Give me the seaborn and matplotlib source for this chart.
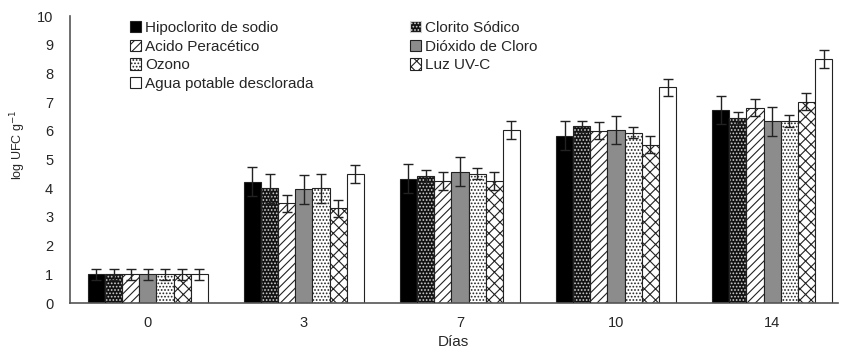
import matplotlib
matplotlib.use("Agg")
import matplotlib.pyplot as plt
import numpy as np
import pandas as pd
import seaborn as sns
from matplotlib.patches import Patch, Rectangle

# datos (log UFC g-1)
dias = ["0", "3", "7", "10", "14"]
tratamientos = ["Hipoclorito de sodio", "Clorito Sódico", "Acido Peracético",
                "Dióxido de Cloro", "Ozono", "Luz UV-C", "Agua potable desclorada"]

hipoclorito = [1.0, 4.23, 4.34, 5.83, 6.73]
clorito = [1.0, 4.0, 4.42, 6.16, 6.45]
peracetico = [1.0, 3.47, 4.25, 6.0, 6.8]
dioxido = [1.0, 3.96, 4.58, 6.03, 6.33]
ozono = [1.0, 4.0, 4.51, 5.94, 6.34]
uvc = [1.0, 3.3, 4.25, 5.52, 7.02]
agua = [1.0, 4.5, 6.03, 7.52, 8.5]

err_hipoclorito = [0.2, 0.5, 0.5, 0.5, 0.5]
err_clorito = [0.2, 0.5, 0.2, 0.2, 0.2]
err_peracetico = [0.2, 0.3, 0.3, 0.3, 0.3]
err_dioxido = [0.2, 0.5, 0.5, 0.5, 0.5]
err_ozono = [0.2, 0.5, 0.2, 0.2, 0.2]
err_uvc = [0.2, 0.3, 0.3, 0.3, 0.3]
err_agua = [0.2, 0.3, 0.3, 0.3, 0.3]

valores = [hipoclorito, clorito, peracetico, dioxido, ozono, uvc, agua]
errores = [err_hipoclorito, err_clorito, err_peracetico, err_dioxido,
           err_ozono, err_uvc, err_agua]

BORDE = "#222222"
# estilo de cada serie: (relleno, trama, color de trama)
estilos = [("#000000", "", BORDE), ("#111111", ".....", "#d0d0d0"),
           ("#ffffff", "////", BORDE), ("#8c8c8c", "", BORDE),
           ("#ffffff", ".....", BORDE), ("#ffffff", "xxx", BORDE),
           ("#ffffff", "", BORDE)]

rows = []
for t, vals in zip(tratamientos, valores):
    for d, v in zip(dias, vals):
        rows.append({"Días": d, "Tratamiento": t, "valor": v})
df = pd.DataFrame(rows)

sns.set_style("white")
plt.rcParams["font.family"] = ["Liberation Sans", "DejaVu Sans"]
plt.rcParams["hatch.linewidth"] = 0.8

fig = plt.figure(figsize=(8.41, 3.48), dpi=100)
ax = fig.add_axes([0.083, 0.129, 0.913, 0.825])

paleta = {t: e[0] for t, e in zip(tratamientos, estilos)}
sns.barplot(data=df, x="Días", y="valor", hue="Tratamiento", order=dias,
            hue_order=tratamientos, palette=paleta, errorbar=None,
            width=0.77, edgecolor=BORDE, linewidth=0.8, saturation=1,
            legend=False, ax=ax)

for cont, (fc, hatch, hc), errs in zip(ax.containers, estilos, errores):
    for bar, e in zip(cont, errs):
        bar.set_facecolor(fc)
        bar.set_hatch(hatch)
        if hc != BORDE:
            # trama clara sobre fondo oscuro: contorno aparte
            bar.set_edgecolor(hc)
            ax.add_patch(Rectangle((bar.get_x(), 0), bar.get_width(),
                                   bar.get_height(), fill=False,
                                   edgecolor=BORDE, linewidth=0.8, zorder=3))
        x = bar.get_x() + bar.get_width() / 2
        ax.errorbar(x, bar.get_height(), yerr=e, color=BORDE,
                    elinewidth=1, capsize=3.5, capthick=1, zorder=5)

ax.set_ylim(0, 10)
ax.set_xlim(-0.5, 4.42)
ax.set_yticks(range(0, 11))
ax.tick_params(axis="both", labelsize=10.5, length=0)
ax.tick_params(axis="y", pad=12)
ax.tick_params(axis="x", pad=9)
ax.set_xlabel("Días", fontsize=11, labelpad=4)
ax.set_ylabel("log UFC g$^{-1}$", fontsize=9)
ax.yaxis.set_label_coords(-0.055, 0.55)
for s in ["top", "right"]:
    ax.spines[s].set_visible(False)
for s in ["left", "bottom"]:
    ax.spines[s].set_color("#555555")
    ax.spines[s].set_linewidth(1.2)

# leyenda en dos columnas, ordenada por filas
handles = []
for fc, h, hc in estilos:
    handles.append(Patch(facecolor=fc, hatch=h, edgecolor=hc, linewidth=0.8))
orden = [0, 2, 4, 6, 1, 3, 5]
ax.legend([handles[i] for i in orden], [tratamientos[i] for i in orden],
          ncol=2, frameon=False, fontsize=11, handlelength=0.75,
          handleheight=0.75, handletextpad=0.25, columnspacing=6.3,
          labelspacing=0.3, loc="upper left", bbox_to_anchor=(0.06, 1.03))

fig.savefig("out.png", dpi=100)
